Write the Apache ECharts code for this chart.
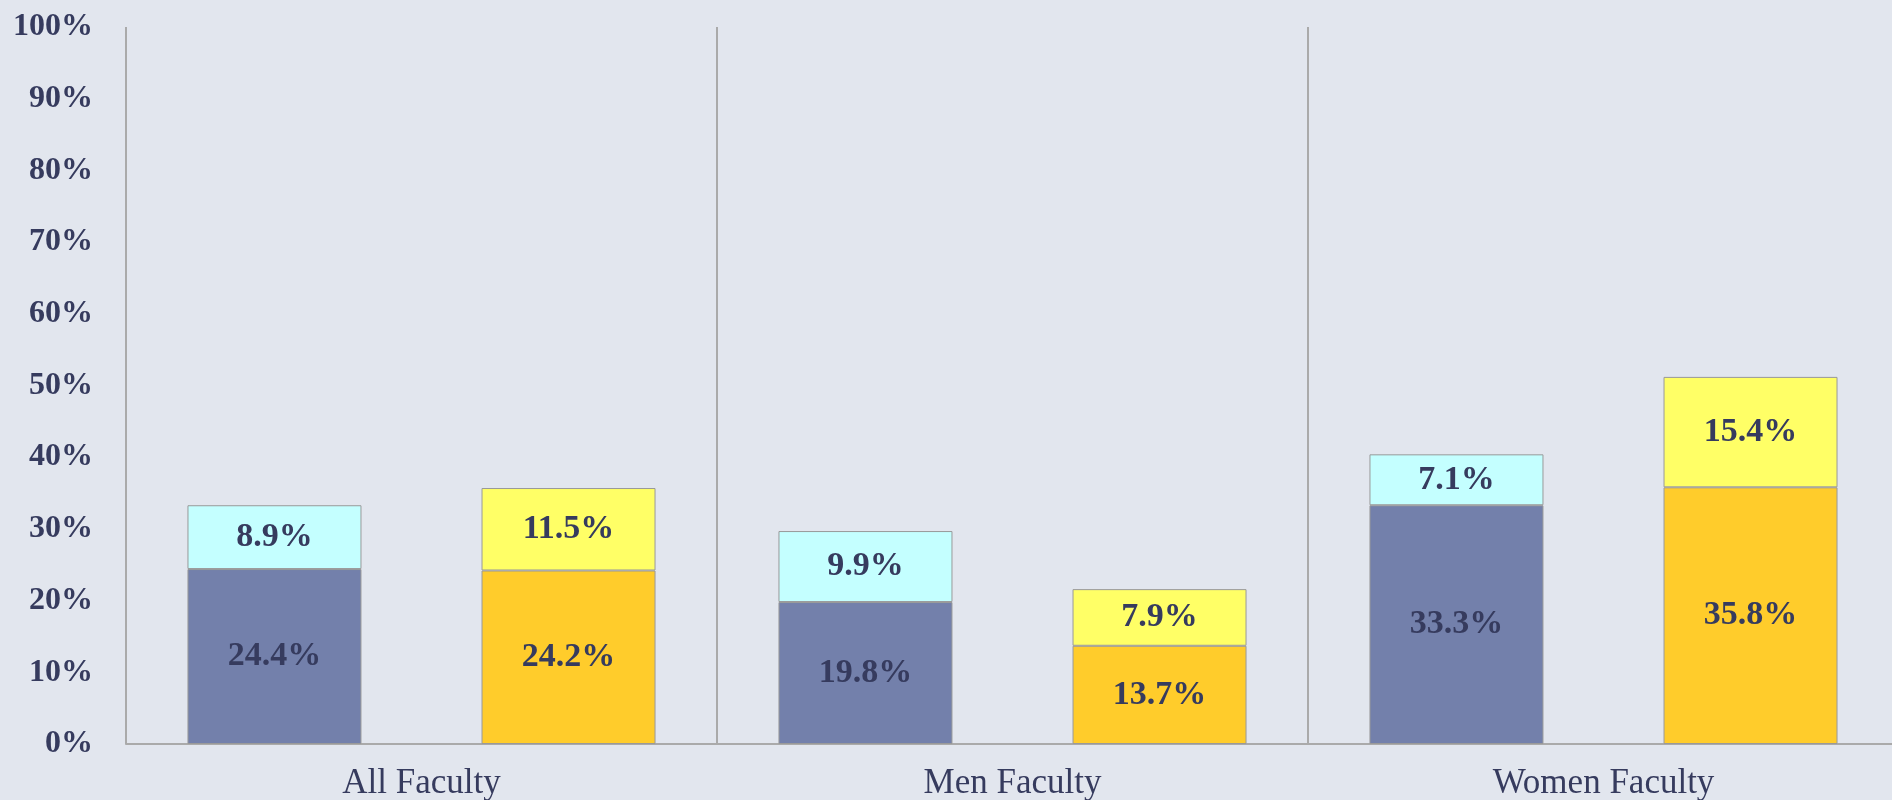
<!DOCTYPE html>
<html><head><meta charset="utf-8">
<script src="https://cdn.jsdelivr.net/npm/echarts@6/dist/echarts.min.js"></script>
<style>html,body{margin:0;padding:0;background:#E2E6EE;}#c{width:1892px;height:800px;}</style>
</head><body><div id="c"></div>
<script>
const categories = ['All Faculty', 'Men Faculty', 'Women Faculty'];
const seriesABase = [24.4, 19.8, 33.3];
const seriesATop = [8.9, 9.9, 7.1];
const seriesBBase = [24.2, 13.7, 35.8];
const seriesBTop = [11.5, 7.9, 15.4];
const yTicks = [0, 10, 20, 30, 40, 50, 60, 70, 80, 90, 100];

const font = '"Liberation Serif", "DejaVu Serif", serif';
const textColor = '#363B5E';
const label = {
  show: true, position: 'inside', fontFamily: font, fontSize: 34, fontWeight: 'bold',
  color: textColor, formatter: p => p.value.toFixed(1) + '%'
};
function mk(name, data, stack, color) {
  return {
    name, type: 'bar', stack, data, barWidth: 174, barGap: '69%',
    itemStyle: { color, borderColor: '#999999', borderWidth: 1 },
    label
  };
}
const chart = echarts.init(document.getElementById('c'));
chart.setOption({
  backgroundColor: '#E2E6EE',
  animation: false,
  grid: { left: 126, top: 27, right: -7, bottom: 56, outerBoundsMode: 'none', containLabel: false },
  xAxis: {
    type: 'category', data: categories,
    axisLine: { lineStyle: { color: '#AAAAAA', width: 2 } },
    axisTick: { show: false },
    axisLabel: { fontFamily: font, fontSize: 35, color: textColor, margin: 22 },
    splitLine: { show: true, lineStyle: { color: '#AAAAAA', width: 2 } }
  },
  yAxis: {
    type: 'value', min: yTicks[0], max: yTicks[yTicks.length - 1], interval: 10,
    axisLine: { show: false }, axisTick: { show: false }, splitLine: { show: false },
    axisLabel: { fontFamily: font, fontSize: 32, fontWeight: 'bold', color: textColor, margin: 33,
      formatter: v => v + '%' }
  },
  series: [
    mk('A base', seriesABase, 'a', '#7380AB'),
    mk('A top', seriesATop, 'a', '#C4FFFF'),
    mk('B base', seriesBBase, 'b', '#FFCC2B'),
    mk('B top', seriesBTop, 'b', '#FFFF66')
  ]
});
</script></body></html>
